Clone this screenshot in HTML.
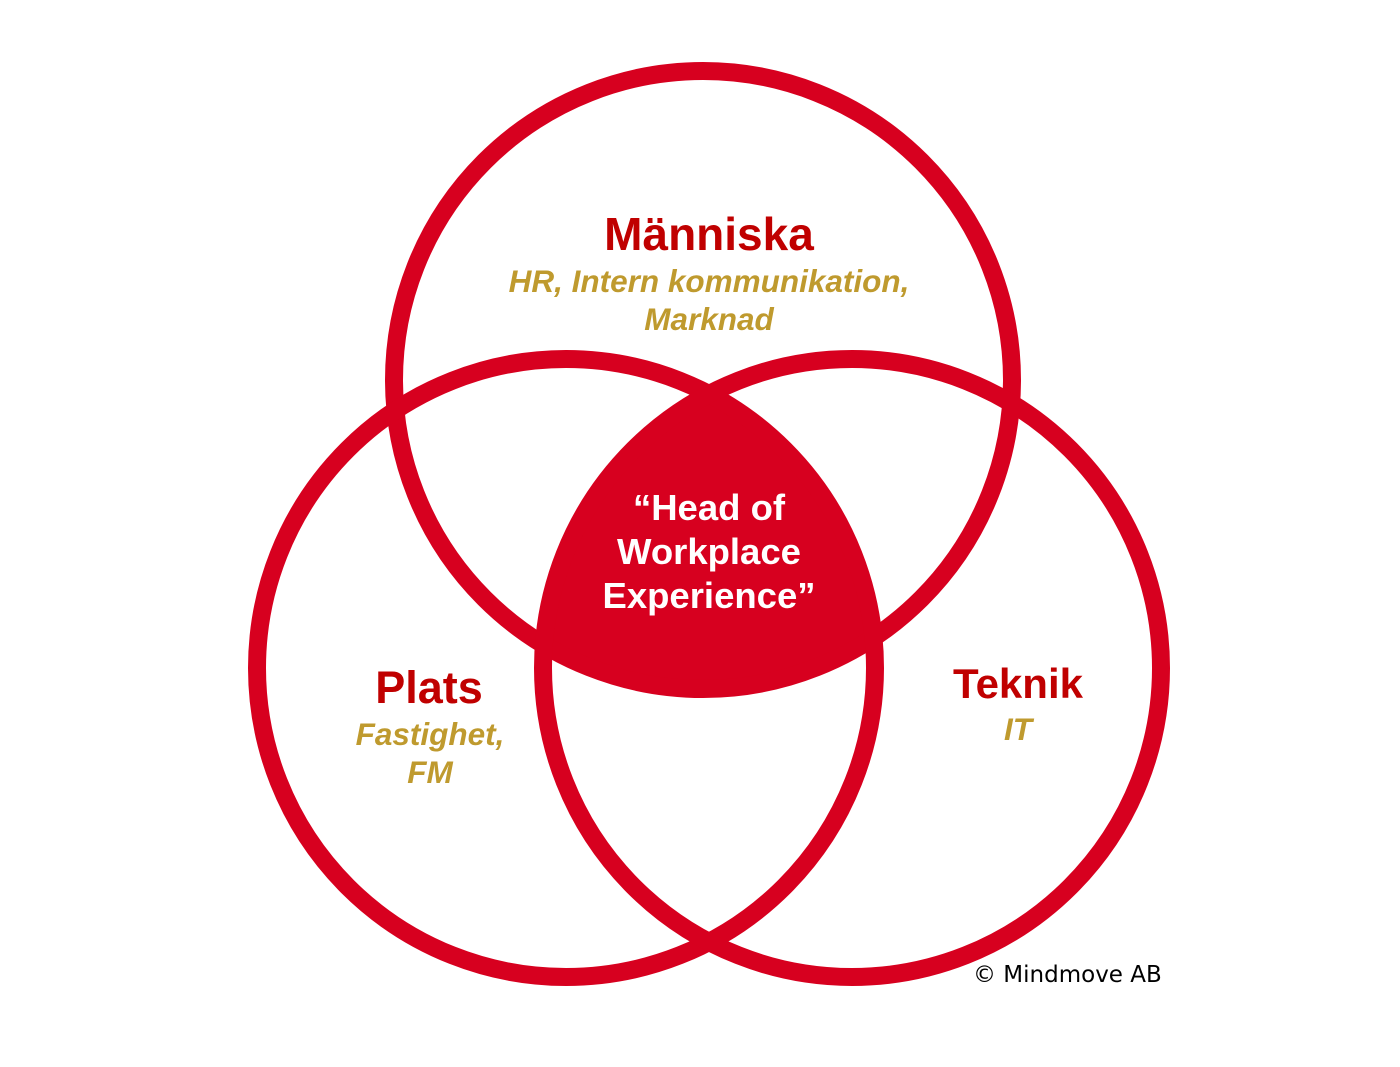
<!DOCTYPE html>
<html><head><style>body{margin:0;background:#fff}svg{display:block}</style></head><body>
<svg width="1400" height="1067" viewBox="0 0 1400 1067" xmlns="http://www.w3.org/2000/svg">
<defs>
<clipPath id="c1"><circle cx="703" cy="380" r="309"/></clipPath>
<clipPath id="c2"><circle cx="566" cy="668" r="309"/></clipPath>
</defs>
<g clip-path="url(#c1)"><g clip-path="url(#c2)"><circle cx="852" cy="668" r="309" fill="#d7001f"/></g></g>
<g fill="none" stroke="#d7001f" stroke-width="18">
<circle cx="703" cy="380" r="309"/>
<circle cx="566" cy="668" r="309"/>
<circle cx="852" cy="668" r="309"/>
</g>
<g font-family="Liberation Sans, sans-serif" font-weight="bold" text-anchor="middle">
<text x="709" y="250" font-size="46" fill="#c00000">Människa</text>
<text x="709" y="292" font-size="31.5" font-style="italic" fill="#bf9a2e">HR, Intern kommunikation,</text>
<text x="709" y="330" font-size="31.5" font-style="italic" fill="#bf9a2e">Marknad</text>
<text x="709" y="520" font-size="36.5" fill="#fff">“Head of</text>
<text x="709" y="564" font-size="36.5" fill="#fff">Workplace</text>
<text x="709" y="608" font-size="36.5" fill="#fff">Experience”</text>
<text x="429" y="703" font-size="45" fill="#c00000">Plats</text>
<text x="430" y="745" font-size="31.5" font-style="italic" fill="#bf9a2e">Fastighet,</text>
<text x="430" y="783" font-size="31.5" font-style="italic" fill="#bf9a2e">FM</text>
<text x="1018" y="698" font-size="42" fill="#c00000">Teknik</text>
<text x="1018" y="740" font-size="31.5" font-style="italic" fill="#bf9a2e">IT</text>
</g>
<text x="973" y="982" font-family="DejaVu Sans, Liberation Sans, sans-serif" font-size="23" fill="#000">© Mindmove AB</text>
</svg>
</body></html>
